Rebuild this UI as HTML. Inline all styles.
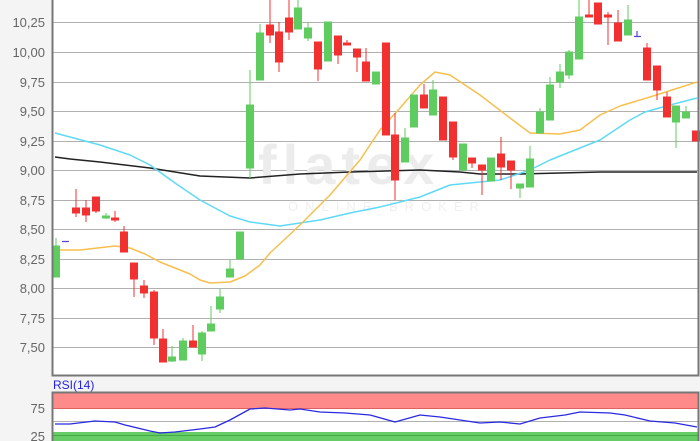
<!DOCTYPE html>
<html><head><meta charset="utf-8"><style>
html,body{margin:0;padding:0;background:#f4f4f4;width:700px;height:441px;overflow:hidden}
svg{display:block;font-family:"Liberation Sans",sans-serif}
</style></head><body>
<svg width="700" height="441" viewBox="0 0 700 441" xmlns="http://www.w3.org/2000/svg">
<rect x="52" y="0" width="646" height="375" fill="#fff"/>
<g stroke="#b0b0b0" stroke-width="1">
<line x1="52" x2="698" y1="22.5" y2="22.5"/><line x1="52" x2="698" y1="52.5" y2="52.5"/>
<line x1="52" x2="698" y1="82.5" y2="82.5"/><line x1="52" x2="698" y1="111.5" y2="111.5"/>
<line x1="52" x2="698" y1="141.5" y2="141.5"/><line x1="52" x2="698" y1="170.5" y2="170.5"/>
<line x1="52" x2="698" y1="200.5" y2="200.5"/><line x1="52" x2="698" y1="229.5" y2="229.5"/>
<line x1="52" x2="698" y1="259.5" y2="259.5"/><line x1="52" x2="698" y1="288.5" y2="288.5"/>
<line x1="52" x2="698" y1="318.5" y2="318.5"/><line x1="52" x2="698" y1="347.5" y2="347.5"/>
</g>
<g fill="#666" font-size="13" text-anchor="end">
<text x="45" y="-3">10,50</text>
<text x="45" y="27">10,25</text><text x="45" y="57">10,00</text><text x="45" y="87">9,75</text>
<text x="45" y="116">9,50</text><text x="45" y="146">9,25</text><text x="45" y="175">9,00</text>
<text x="45" y="205">8,75</text><text x="45" y="234">8,50</text><text x="45" y="264">8,25</text>
<text x="45" y="293">8,00</text><text x="45" y="323">7,75</text><text x="45" y="352">7,50</text>
</g>
<text x="258" y="184" font-size="56" font-weight="bold" fill="#ececec" letter-spacing="6">flatex</text>
<text x="288" y="211" font-size="13" fill="#efefef" letter-spacing="7">ONLINE BROKER</text>
<g fill="none" stroke-width="1.5" stroke-linejoin="round">
<polyline stroke="#222" points="55,157 70,159 100,162 150,168 200,176 250,178 300,174 350,172 420,170 460,172 480,174 520,174 560,173 600,172 697,172"/>
<polyline stroke="#5fd9f5" points="55,133 100,145 130,155 150,165 175,183 200,200 230,216 250,222 280,226 320,220 350,213 380,207 420,197 450,185 500,180 530,170 550,160 600,140 630,120 645,112 670,105 697,98"/>
<polyline stroke="#f7bf4f" points="55,250 80,250 115,246 130,248 145,254 160,262 190,274 200,280 210,283 230,282 245,276 260,265 270,253 300,225 330,195 360,160 380,130 400,108 420,85 435,72 450,75 465,85 480,95 510,118 530,133 560,134 580,130 600,115 620,106 650,97 697,82"/>
</g>
<g fill="#5fcc5f" stroke="#5fcc5f">
<line x1="56" x2="56" y1="238" y2="277"/><rect x="52.5" y="246" width="7" height="31"/>
<line x1="106" x2="106" y1="213" y2="219"/><rect x="102.5" y="216" width="7" height="2"/>
<line x1="172" x2="172" y1="346" y2="362"/><rect x="168.5" y="357" width="7" height="4"/>
<line x1="183" x2="183" y1="338" y2="360"/><rect x="179.5" y="341" width="7" height="19"/>
<line x1="202" x2="202" y1="331" y2="361"/><rect x="198.5" y="333" width="7" height="21"/>
<line x1="211" x2="211" y1="306" y2="331"/><rect x="207.5" y="324" width="7" height="7"/>
<line x1="220" x2="220" y1="289" y2="313"/><rect x="216.5" y="297" width="7" height="12"/>
<line x1="230" x2="230" y1="260" y2="277"/><rect x="226.5" y="269" width="7" height="8"/>
<rect x="236.5" y="232" width="7" height="27"/>
<line x1="250" x2="250" y1="70" y2="178"/><rect x="246.5" y="105" width="7" height="63"/>
<line x1="260" x2="260" y1="24" y2="80"/><rect x="256.5" y="33" width="7" height="47"/>
<line x1="298" x2="298" y1="0" y2="29"/><rect x="294.5" y="8" width="7" height="21"/>
<line x1="308" x2="308" y1="22" y2="41"/><rect x="304.5" y="28" width="7" height="10"/>
<rect x="324.5" y="22" width="7" height="39"/>
<rect x="372.5" y="72" width="7" height="12"/>
<line x1="405" x2="405" y1="128" y2="162"/><rect x="401.5" y="138" width="7" height="24"/>
<rect x="410.5" y="95" width="7" height="32"/>
<line x1="433" x2="433" y1="80" y2="115"/><rect x="429.5" y="90" width="7" height="25"/>
<rect x="459.5" y="144" width="7" height="26"/>
<rect x="487.5" y="158" width="7" height="23"/>
<line x1="520" x2="520" y1="184" y2="198"/><rect x="516.5" y="184" width="7" height="4"/>
<line x1="530" x2="530" y1="146" y2="187"/><rect x="526.5" y="159" width="7" height="28"/>
<line x1="540" x2="540" y1="108" y2="133"/><rect x="536.5" y="112" width="7" height="21"/>
<line x1="550" x2="550" y1="77" y2="120"/><rect x="546.5" y="85" width="7" height="35"/>
<line x1="560" x2="560" y1="64" y2="88"/><rect x="556.5" y="72" width="7" height="10"/>
<line x1="569" x2="569" y1="50" y2="79"/><rect x="565.5" y="52" width="7" height="23"/>
<line x1="579" x2="579" y1="0" y2="59"/><rect x="575.5" y="17" width="7" height="42"/>
<line x1="628" x2="628" y1="5" y2="35"/><rect x="624.5" y="20" width="7" height="15"/>
<line x1="676" x2="676" y1="106" y2="148"/><rect x="672.5" y="106" width="7" height="16"/>
<line x1="686" x2="686" y1="106" y2="118"/><rect x="682.5" y="112" width="7" height="6"/>
</g>
<g fill="#f23030" stroke="#f23030">
<line x1="76" x2="76" y1="189" y2="217"/><rect x="72.5" y="208" width="7" height="5"/>
<line x1="86" x2="86" y1="200" y2="222"/><rect x="82.5" y="208" width="7" height="7"/>
<line x1="96" x2="96" y1="197" y2="213"/><rect x="92.5" y="197" width="7" height="14"/>
<line x1="115" x2="115" y1="211" y2="222"/><rect x="111.5" y="218" width="7" height="2"/>
<line x1="124" x2="124" y1="226" y2="252"/><rect x="120.5" y="232" width="7" height="20"/>
<line x1="134" x2="134" y1="263" y2="297"/><rect x="130.5" y="263" width="7" height="16"/>
<line x1="144" x2="144" y1="280" y2="298"/><rect x="140.5" y="286" width="7" height="7"/>
<line x1="154" x2="154" y1="290" y2="345"/><rect x="150.5" y="292" width="7" height="46"/>
<line x1="163" x2="163" y1="329" y2="362"/><rect x="159.5" y="339" width="7" height="23"/>
<line x1="193" x2="193" y1="325" y2="347"/><rect x="189.5" y="341" width="7" height="6"/>
<line x1="270" x2="270" y1="0" y2="43"/><rect x="266.5" y="25" width="7" height="10"/>
<line x1="279" x2="279" y1="22" y2="72"/><rect x="275.5" y="32" width="7" height="30"/>
<line x1="289" x2="289" y1="0" y2="40"/><rect x="285.5" y="18" width="7" height="14"/>
<line x1="318" x2="318" y1="42" y2="81"/><rect x="314.5" y="42" width="7" height="27"/>
<line x1="338" x2="338" y1="36" y2="64"/><rect x="334.5" y="36" width="7" height="19"/>
<line x1="347" x2="347" y1="40" y2="45"/><rect x="343.5" y="43" width="7" height="2"/>
<line x1="357" x2="357" y1="49" y2="72"/><rect x="353.5" y="49" width="7" height="8"/>
<line x1="366" x2="366" y1="48" y2="81"/><rect x="362.5" y="62" width="7" height="19"/>
<rect x="382.5" y="43" width="7" height="92"/>
<line x1="395" x2="395" y1="113" y2="200"/><rect x="391.5" y="135" width="7" height="45"/>
<line x1="424" x2="424" y1="84" y2="108"/><rect x="420.5" y="95" width="7" height="13"/>
<rect x="439.5" y="97" width="7" height="43"/>
<line x1="453" x2="453" y1="122" y2="160"/><rect x="449.5" y="122" width="7" height="35"/>
<line x1="472" x2="472" y1="158" y2="168"/><rect x="468.5" y="158" width="7" height="5"/>
<line x1="482" x2="482" y1="165" y2="195"/><rect x="478.5" y="165" width="7" height="5"/>
<line x1="501" x2="501" y1="137" y2="180"/><rect x="497.5" y="154" width="7" height="13"/>
<line x1="511" x2="511" y1="161" y2="189"/><rect x="507.5" y="161" width="7" height="9"/>
<line x1="589" x2="589" y1="0" y2="17"/><rect x="585.5" y="15" width="7" height="2"/>
<rect x="594.5" y="3" width="7" height="21"/>
<line x1="608" x2="608" y1="12" y2="45"/><rect x="604.5" y="15" width="7" height="2"/>
<line x1="618" x2="618" y1="10" y2="41"/><rect x="614.5" y="23" width="7" height="18"/>
<line x1="647" x2="647" y1="43" y2="80"/><rect x="643.5" y="48" width="7" height="32"/>
<line x1="657" x2="657" y1="66" y2="100"/><rect x="653.5" y="66" width="7" height="24"/>
<line x1="667" x2="667" y1="92" y2="117"/><rect x="663.5" y="97" width="7" height="20"/>
<rect x="692.5" y="131" width="7" height="10"/>
</g>
<path d="M62 241.5H69M637 31V36M634 36.5H641" stroke="#5544cc" stroke-width="1.2"/>
<path d="M52.5 0V375.5H698.5V0" fill="none" stroke="#777" stroke-width="2"/>
<text x="53" y="389" font-size="12" fill="#2222ee">RSI(14)</text>
<rect x="52" y="392" width="646" height="49" fill="#fff"/>
<rect x="53" y="393" width="645" height="16" fill="#ff8a8a"/>
<line x1="53" x2="698" y1="408.5" y2="408.5" stroke="#e06060"/>
<line x1="53" x2="698" y1="421.5" y2="421.5" stroke="#b0b0b0"/>
<rect x="53" y="432" width="645" height="9" fill="#66cc66"/>
<line x1="53" x2="698" y1="435.5" y2="435.5" stroke="#44aa44"/>
<polyline fill="none" stroke="#2a2ae0" stroke-width="1.3" stroke-linejoin="round" points="55,424 70,424 95,421 115,422 125,425 150,431 160,433 175,432 200,429 215,427 230,420 250,409 265,408 290,410 300,409 320,412 345,413 370,415 395,422 420,415 440,417 480,423 500,422 520,424 540,418 565,415 580,412 610,413 625,415 650,421 675,423 697,427"/>
<path d="M52.5 441V392.5H698.5V441" fill="none" stroke="#777" stroke-width="2"/>
<g fill="#666" font-size="13" text-anchor="end"><text x="45" y="413">75</text><text x="45" y="441">25</text></g>
</svg>
</body></html>
